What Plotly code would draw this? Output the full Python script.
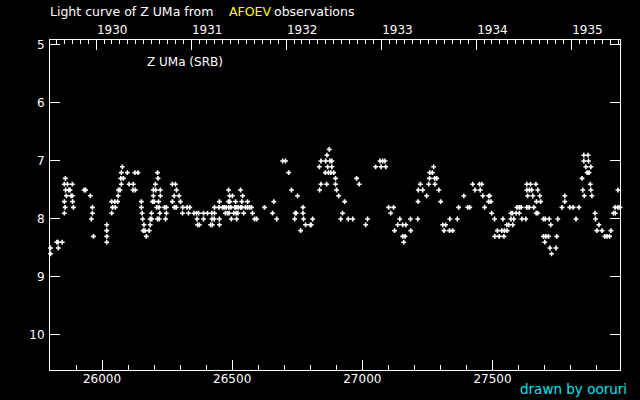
"""Light curve of Z UMa (AFOEV visual estimates), JD - 2400000 vs magnitude."""
from datetime import date

import plotly.graph_objects as go

# visual estimates grouped by magnitude (0.1 mag steps); JD - 2400000
MAG_LEVELS = [6.8, 6.9, 7.0, 7.1, 7.2, 7.3, 7.4, 7.5, 7.6, 7.7, 7.8, 7.9, 8.0, 8.1, 8.2, 8.3, 8.4, 8.5, 8.6]
JD_BY_LEVEL = [
    [26873],
    [26864, 27851, 27867],
    [26694, 26705, 26841, 26859, 26876, 26883, 27068, 27078, 27087, 27851, 27869],
    [26078, 26835, 26867, 26883, 27051, 27072, 27090, 27274, 27859, 27878],
    [26074, 26097, 26126, 26138, 26213, 26717, 26858, 26870, 26879, 26890, 27259, 27269, 27864, 27871],
    [25859, 26072, 26082, 26215, 26897, 26978, 27258, 27278, 27286, 27844],
    [25855, 25867, 25886, 26074, 26104, 26120, 26205, 26270, 26282, 26841, 26863, 26897, 26988, 27223,
     27255, 27279, 27424, 27450, 27459, 27632, 27646, 27667, 27876],
    [25860, 25872, 25877, 25931, 25937, 26063, 26069, 26119, 26128, 26197, 26206, 26224, 26286, 26486,
     26532, 26728, 26836, 26901, 27215, 27232, 27294, 27433, 27453, 27632, 27642, 27651, 27674, 27847,
     27878, 27982],
    [25863, 25881, 25886, 25955, 26062, 26197, 26224, 26277, 26296, 26490, 26501, 26540, 26751, 26909,
     27247, 27390, 27463, 27485, 27490, 27635, 27655, 27682, 27778, 27853, 27882],
    [25855, 25887, 26037, 26049, 26060, 26151, 26194, 26200, 26217, 26270, 26301, 26451, 26486, 26491,
     26513, 26537, 26559, 26660, 26932, 27214, 27301, 27485, 27494, 27669, 27685, 27778],
    [25858, 25890, 25963, 26040, 26051, 26151, 26210, 26219, 26240, 26247, 26278, 26285, 26310, 26327,
     26337, 26432, 26449, 26463, 26469, 26477, 26487, 26495, 26510, 26515, 26523, 26532, 26537, 26551,
     26559, 26567, 26574, 26624, 26772, 27101, 27120, 27370, 27405, 27413, 27470, 27594, 27603, 27610,
     27632, 27641, 27659, 27767, 27797, 27810, 27832, 27971, 27982, 27990],
    [25855, 25963, 26037, 26154, 26190, 26222, 26247, 26309, 26332, 26353, 26363, 26371, 26390, 26405,
     26422, 26432, 26474, 26482, 26488, 26506, 26515, 26522, 26544, 26578, 26655, 26742, 26746, 26772,
     26924, 27109, 27497, 27571, 27577, 27591, 27603, 27668, 27674, 27894, 27965, 27972, 27994],
    [25959, 26156, 26185, 26191, 26213, 26219, 26244, 26365, 26390, 26422, 26431, 26451, 26497, 26517,
     26586, 26594, 26671, 26740, 26774, 26809, 26917, 26946, 26963, 27020, 27144, 27185, 27213, 27336,
     27365, 27508, 27540, 27571, 27582, 27613, 27628, 27696, 27703, 27718, 27751, 27821, 27896],
    [26018, 26161, 26185, 26367, 26374, 26417, 26424, 26451, 26782, 26800, 26804, 27013, 27136, 27155,
     27167, 27309, 27320, 27555, 27563, 27578, 27724, 27909],
    [26018, 26158, 26165, 26181, 26763, 27124, 27186, 27314, 27335, 27347, 27519, 27536, 27546, 27556,
     27901, 27921, 27955],
    [25967, 26018, 26170, 27155, 27164, 27509, 27526, 27544, 27696, 27705, 27715, 27747, 27932, 27940,
     27950],
    [25826, 25831, 25847, 26018, 27159, 27701],
    [25802, 25832, 27721, 27744],
    [25802, 27727],
]

YEARS = [1930, 1931, 1932, 1933, 1934, 1935]
JD_RANGE = [25800, 27990]
MAG_RANGE = [10.604, 4.914]

FONT = "DejaVu Sans"
WHITE = "#ffffff"


def jd_of(d: date) -> float:
    # JD - 2400000 at 0h UT
    return (d - date(1858, 11, 17)).days + 0.5


year_jd = [jd_of(date(y, 1, 1)) for y in YEARS]
month_jd = [jd_of(date(y, m, 1)) for y in range(1929, 1936) for m in range(1, 13)]
month_jd = [j for j in month_jd if JD_RANGE[0] < j < JD_RANGE[1] and j not in year_jd]

xs, ys = [], []
for mag, jds in zip(MAG_LEVELS, JD_BY_LEVEL):
    xs.extend(jds)
    ys.extend([mag] * len(jds))

fig = go.Figure()
fig.add_trace(go.Scatter(
    x=xs, y=ys, mode="markers",
    marker=dict(symbol="cross", size=4, color=WHITE, line=dict(width=0)),
    cliponaxis=False, showlegend=False, hoverinfo="x+y",
))
# carrier for the calendar axis on top
fig.add_trace(go.Scatter(x=JD_RANGE, y=[None, None], xaxis="x2", mode="markers", showlegend=False))

axis_font = dict(family=FONT, size=12, color=WHITE)
fig.update_layout(
    width=640, height=400,
    margin=dict(l=50, r=20, t=40, b=30),
    paper_bgcolor="black", plot_bgcolor="black",
    font=axis_font,
    xaxis=dict(
        range=JD_RANGE, showgrid=False, zeroline=False,
        showline=True, linecolor=WHITE, linewidth=1, mirror=True,
        tick0=0, dtick=500, ticks="inside", ticklen=10, tickcolor=WHITE,
        tickformat="d", tickfont=axis_font, ticklabelstandoff=-2,
        minor=dict(dtick=100, tick0=0, ticks="inside", ticklen=5, tickcolor=WHITE),
    ),
    xaxis2=dict(
        range=JD_RANGE, overlaying="x", side="top", anchor="y",
        showgrid=False, zeroline=False, showline=True, linecolor=WHITE,
        tickmode="array", tickvals=year_jd, ticktext=[str(y) for y in YEARS],
        ticks="inside", ticklen=10, tickcolor=WHITE, tickfont=axis_font,
        ticklabelshift=16, ticklabelstandoff=0,
        minor=dict(tickmode="array", tickvals=month_jd, ticks="inside", ticklen=4, tickcolor=WHITE),
    ),
    yaxis=dict(
        range=MAG_RANGE, showgrid=False, zeroline=False,
        showline=True, linecolor=WHITE, mirror="ticks",
        tick0=0, dtick=1, ticks="inside", ticklen=10, tickcolor=WHITE,
        tickfont=axis_font, ticklabelstandoff=2,
    ),
)


def px_x(px: float) -> float:
    return (px - 50) / 570


def px_y(py: float) -> float:
    return (370 - py) / 330


def note(text, x, y, color=WHITE, xanchor="left", size=12):
    fig.add_annotation(
        text=text, x=px_x(x), y=px_y(y), xref="paper", yref="paper",
        xanchor=xanchor, yanchor="middle", showarrow=False,
        font=dict(family=FONT, size=size, color=color),
    )


note("Light curve of Z UMa from", 48, 12, size=12.5)
note("AFOEV", 227, 12, color="#ffff00", size=12.5)
note("observations", 272, 12, size=12.5)
note("Z UMa (SRB)", 145, 62)
note("drawn by ooruri", 629, 389, color="#00e5ee", xanchor="right", size=13.5)

# page is black and the figure sits at the very top-left corner
fig.write_html(
    "out.html",
    config={"displayModeBar": False},
    post_script="document.body.style.margin='0';document.body.style.background='black';",
)
